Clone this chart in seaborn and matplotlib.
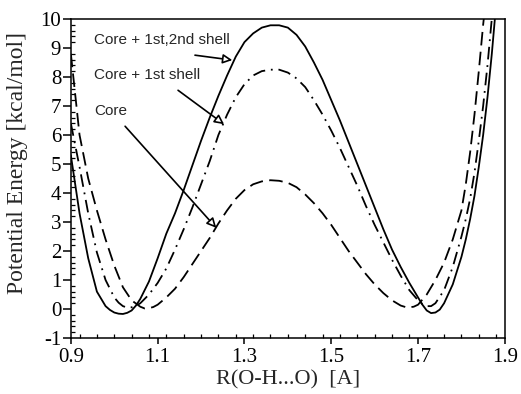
import matplotlib
matplotlib.use("Agg")
import matplotlib.pyplot as plt
import seaborn as sns
import pandas as pd
from matplotlib.ticker import MultipleLocator

# ---- data ----
x_full = [0.90, 0.92, 0.94, 0.96, 0.98, 0.99, 1.00, 1.01, 1.02, 1.03, 1.04, 1.05, 1.06,
          1.08, 1.10, 1.12, 1.14, 1.16, 1.18, 1.20, 1.22, 1.24, 1.26, 1.28, 1.30,
          1.32, 1.34, 1.36, 1.38, 1.40, 1.42, 1.44, 1.46, 1.48, 1.50, 1.52, 1.54,
          1.56, 1.58, 1.60, 1.62, 1.64, 1.66, 1.68, 1.70, 1.71, 1.72, 1.73, 1.74,
          1.75, 1.76, 1.78, 1.80, 1.81, 1.82, 1.83, 1.84, 1.85, 1.86, 1.87, 1.877, 1.885]
y_full = [5.3, 3.3, 1.75, 0.6, 0.1, -0.03, -0.12, -0.16, -0.17, -0.13, -0.05, 0.12, 0.35,
          0.95, 1.75, 2.6, 3.3, 4.1, 4.95, 5.8, 6.6, 7.35, 8.05, 8.7, 9.2,
          9.5, 9.7, 9.78, 9.78, 9.7, 9.45, 9.05, 8.5, 7.9, 7.2, 6.5, 5.75,
          5.0, 4.25, 3.5, 2.75, 2.05, 1.45, 0.9, 0.4, 0.15, -0.05, -0.14, -0.12,
          -0.02, 0.2, 0.85, 1.8, 2.4, 3.1, 3.9, 4.9, 6.0, 7.3, 8.8, 10.0, 11.0]

x_first = [0.90, 0.92, 0.94, 0.96, 0.98, 1.00, 1.01, 1.02, 1.03, 1.04, 1.05, 1.06,
           1.08, 1.10, 1.12, 1.14, 1.16, 1.18, 1.20, 1.22, 1.24, 1.26, 1.28, 1.30,
           1.32, 1.34, 1.36, 1.38, 1.40, 1.42, 1.44, 1.46, 1.48, 1.50, 1.52, 1.54,
           1.56, 1.58, 1.60, 1.62, 1.64, 1.66, 1.68, 1.70, 1.71, 1.72, 1.73, 1.74,
           1.76, 1.78, 1.80, 1.81, 1.82, 1.83, 1.84, 1.85, 1.86, 1.868, 1.875]
y_first = [6.4, 4.9, 3.3, 1.95, 1.0, 0.4, 0.22, 0.1, 0.05, 0.06, 0.11, 0.2,
           0.5, 0.9, 1.4, 2.05, 2.75, 3.5, 4.3, 5.1, 6.0, 6.7, 7.3, 7.75,
           8.05, 8.2, 8.25, 8.25, 8.15, 7.95, 7.65, 7.2, 6.7, 6.15, 5.55, 4.9,
           4.25, 3.55, 2.9, 2.3, 1.7, 1.15, 0.65, 0.3, 0.17, 0.1, 0.1, 0.2,
           0.65, 1.45, 2.5, 3.1, 3.8, 4.7, 5.8, 7.0, 8.4, 9.7, 10.8]

x_core = [0.90, 0.92, 0.94, 0.96, 0.98, 1.00, 1.02, 1.04, 1.06, 1.07, 1.08, 1.09, 1.10,
          1.12, 1.14, 1.16, 1.18, 1.20, 1.22, 1.24, 1.26, 1.28, 1.30, 1.32, 1.34,
          1.36, 1.38, 1.40, 1.42, 1.44, 1.46, 1.48, 1.50, 1.52, 1.54, 1.56, 1.58,
          1.60, 1.62, 1.64, 1.66, 1.675, 1.69, 1.70, 1.72, 1.74, 1.76, 1.78, 1.80,
          1.81, 1.82, 1.83, 1.84, 1.85, 1.855]
y_core = [8.8, 6.0, 4.5, 3.4, 2.4, 1.5, 0.75, 0.3, 0.08, 0.02, 0.03, 0.07, 0.15,
          0.4, 0.7, 1.1, 1.55, 2.0, 2.45, 2.95, 3.4, 3.8, 4.1, 4.3, 4.4,
          4.44, 4.42, 4.35, 4.2, 3.95, 3.65, 3.3, 2.9, 2.45, 2.0, 1.6, 1.2,
          0.85, 0.55, 0.3, 0.12, 0.05, 0.08, 0.15, 0.5, 1.0, 1.6, 2.4, 3.4,
          4.3, 5.4, 6.7, 8.2, 9.8, 10.5]

labels = ["Core + 1st,2nd shell", "Core + 1st shell", "Core"]
x_ticks = [0.9, 1.1, 1.3, 1.5, 1.7, 1.9]
y_ticks = list(range(-1, 11))

df = pd.concat([
    pd.DataFrame({"R": x_full, "E": y_full, "model": labels[0]}),
    pd.DataFrame({"R": x_first, "E": y_first, "model": labels[1]}),
    pd.DataFrame({"R": x_core, "E": y_core, "model": labels[2]}),
], ignore_index=True)

sns.set_theme(style="ticks")
plt.rcParams["font.family"] = ["Liberation Serif", "DejaVu Serif"]

fig = plt.figure(figsize=(5.21, 3.94), dpi=100)
ax = fig.add_axes([0.136, 0.142, 0.833, 0.810])

sns.lineplot(data=df, x="R", y="E", style="model", hue="model",
             palette={l: "black" for l in labels},
             dashes={labels[0]: "", labels[1]: (7, 3.2, 1, 3.2), labels[2]: (7.5, 3.5)},
             estimator=None, sort=True, linewidth=1.3, legend=False, ax=ax)

ax.set_xlim(0.9, 1.9)
ax.set_ylim(-1, 10)
ax.set_xticks(x_ticks)
ax.set_xticklabels([f"{v:.1f}" for v in x_ticks])
ax.set_yticks(y_ticks)
ax.set_yticklabels([str(v) for v in y_ticks])
ax.xaxis.set_minor_locator(MultipleLocator(0.04))
ax.yaxis.set_minor_locator(MultipleLocator(0.2))
ax.tick_params(axis="x", which="major", direction="out", length=4, width=1.1,
               labelsize=15, pad=3, colors="black")
ax.tick_params(axis="y", which="major", direction="out", length=6, width=1.1,
               labelsize=15, pad=1, colors="black")
ax.tick_params(which="minor", direction="in", length=3, width=0.9, colors="black")
for s in ax.spines.values():
    s.set_visible(True)
    s.set_linewidth(1.1)
    s.set_color("black")

ax.set_xlabel("R(O-H...O)  [A]", fontsize=16)
ax.set_ylabel("Potential Energy [kcal/mol]", fontsize=17)
ax.xaxis.set_label_coords(0.5, -0.10)
ax.yaxis.set_label_coords(-0.099, 0.55)

arrow = dict(arrowstyle="-|>", fc="white", ec="black", lw=1.2, mutation_scale=14,
             shrinkA=0, shrinkB=0)
sans = ["Liberation Sans", "DejaVu Sans"]
ax.annotate("", xy=(1.272, 8.58), xytext=(1.186, 8.75), arrowprops=arrow)
ax.annotate("", xy=(1.253, 6.37), xytext=(1.147, 7.54), arrowprops=arrow)
ax.annotate("", xy=(1.235, 2.80), xytext=(1.025, 6.30), arrowprops=arrow)
ax.text(0.953, 9.27, labels[0], family=sans, fontsize=11, va="center", ha="left")
ax.text(0.953, 8.06, labels[1], family=sans, fontsize=11, va="center", ha="left")
ax.text(0.953, 6.82, labels[2], family=sans, fontsize=11, va="center", ha="left")

fig.savefig("out.png", dpi=100, facecolor="white")
